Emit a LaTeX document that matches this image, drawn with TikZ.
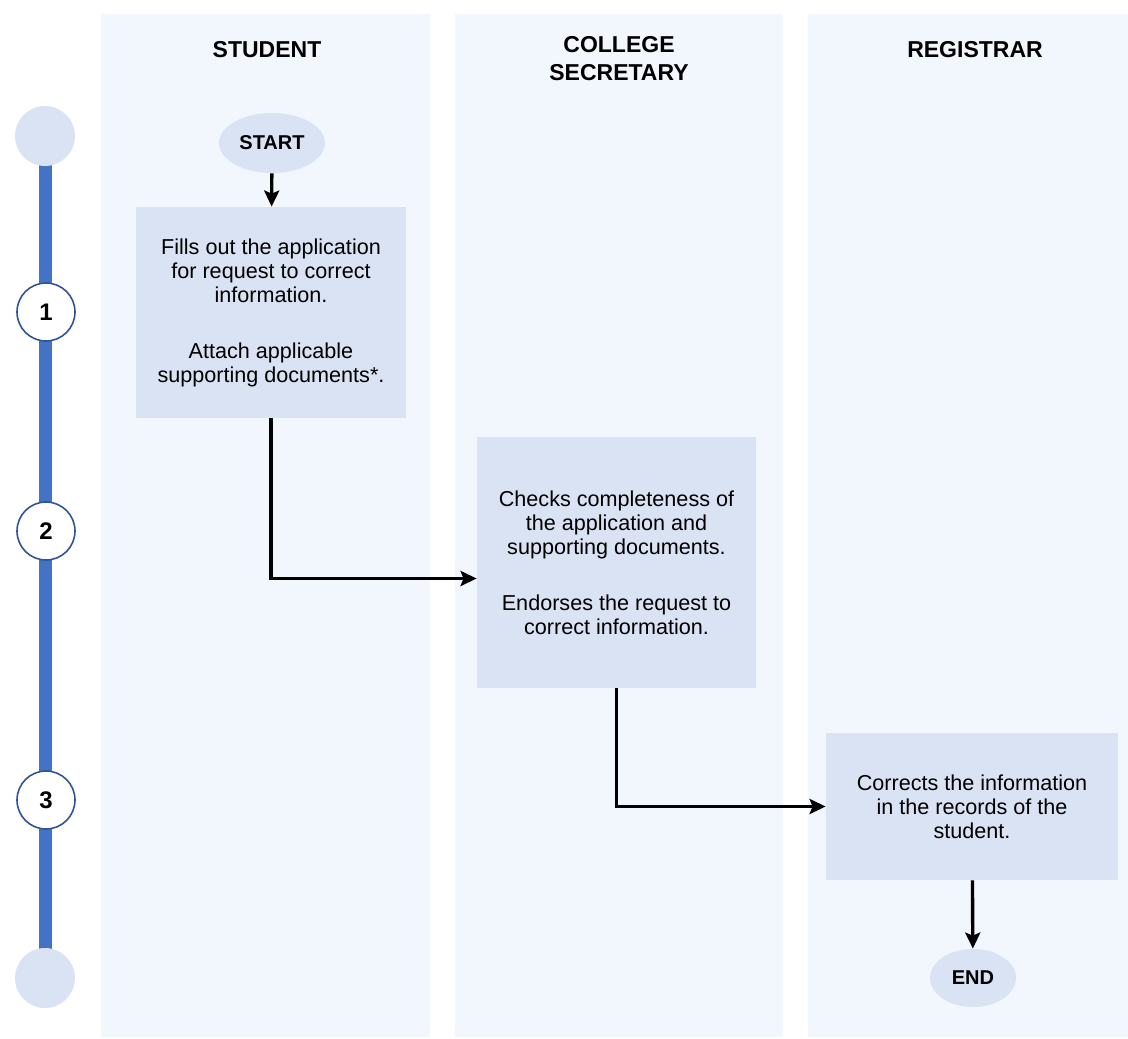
\documentclass[tikz,border=0pt]{standalone}
\usepackage{fontspec}
\setmainfont{Liberation Sans}
\usetikzlibrary{shapes,arrows.meta,positioning,calc}

\definecolor{lanebg}{HTML}{F2F6FD}
\definecolor{taskbg}{HTML}{DAE3F3}
\definecolor{lineblue}{HTML}{4472C4}
\definecolor{ringblue}{HTML}{2F5597}

\begin{document}
\begin{tikzpicture}[
    x=0.5pt, y=-0.5pt,
    lane/.style={fill=lanebg},
    head/.style={font=\fontsize{11.5}{14}\selectfont\bfseries, align=center},
    task/.style={rectangle, fill=taskbg, inner sep=0pt, align=center, font=\fontsize{10.8}{12}\selectfont},
    terminal/.style={ellipse, fill=taskbg, inner sep=0pt, font=\fontsize{10}{12}\selectfont\bfseries},
    dot/.style={circle, fill=taskbg, minimum size=30pt, inner sep=0pt},
    num/.style={circle, draw=ringblue, line width=0.8pt, fill=white, minimum size=29pt, inner sep=0pt, font=\fontsize{12}{14}\selectfont\bfseries},
    arrow/.style={->, >={Stealth[length=8pt, width=7.5pt, inset=1.5pt]}, line width=1.7pt}
]
\useasboundingbox (0,0) rectangle (1128,1038);

% Swim lanes
\fill[lane] (101,14) rectangle (430,1037);
\fill[lane] (455,14) rectangle (783,1037);
\fill[lane] (808,14) rectangle (1128,1037);

\node[head] (hstudent) at (267,50) {STUDENT};
\node[head] (hsecretary) at (619,59) {COLLEGE\\SECRETARY};
\node[head] (hregistrar) at (975,50) {REGISTRAR};

% Timeline
\coordinate (ttop) at (45,136);
\coordinate (tbot) at (45,978);
\draw[lineblue, line width=6.5pt] (ttop) -- (tbot);
\node[dot] (dtop) at (ttop) {};
\node[dot] (dbot) at (tbot) {};
\node[num] (n1) at (46,312) {1};
\node[num] (n2) at (46,531) {2};
\node[num] (n3) at (46,800) {3};

% Student
\node[terminal, minimum width=53pt, minimum height=30pt] (start) at (272,143) {START};
\node[task, minimum width=135pt, minimum height=105.5pt] (fill) at (271,312.5) {Fills out the application\\for request to correct\\information.\\[16pt]Attach applicable\\supporting documents*.};

% College secretary
\node[task, minimum width=139.5pt, minimum height=125.5pt] (check) at (616.5,562.5) {Checks completeness of\\the application and\\supporting documents.\\[16pt]Endorses the request to\\correct information.};

% Registrar
\node[task, minimum width=146pt, minimum height=73.5pt] (correct) at (972,806.5) {Corrects the information\\in the records of the\\student.};
\node[terminal, minimum width=43pt, minimum height=29pt] (end) at (973,978) {END};

% Flow
\draw[arrow] (start) -- (fill);
\draw[arrow] (fill.south) |- ([yshift=-8pt]check.west);
\draw[arrow] (check.south) |- (correct.west);
\draw[arrow] (correct) -- (end);

\end{tikzpicture}
\end{document}
